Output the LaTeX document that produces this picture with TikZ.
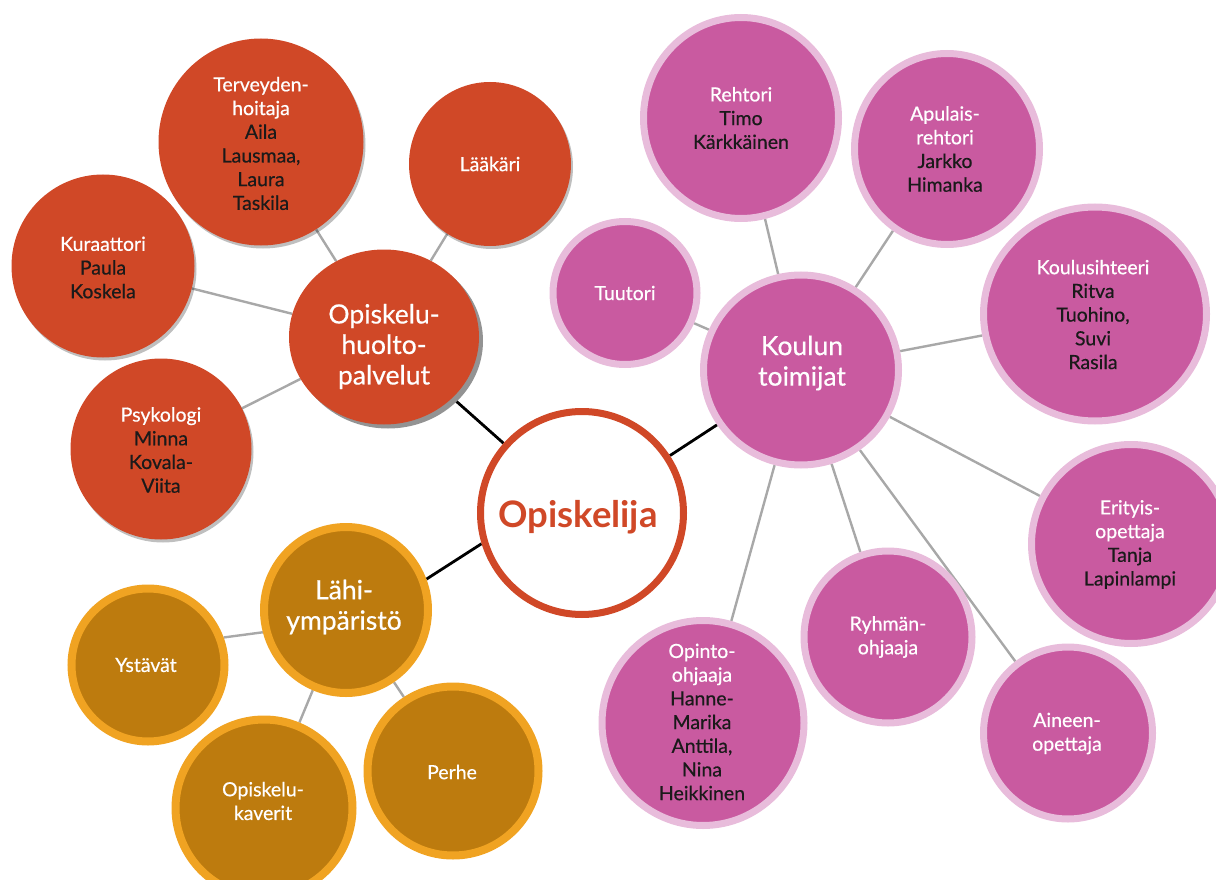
\documentclass[tikz,border=0pt]{standalone}
\usepackage{fontspec}
\setmainfont{Lato}
\newfontfamily\labfont{Lato}[FakeBold=0.5]
\usetikzlibrary{shapes.geometric,shadows,backgrounds}
\definecolor{cRed}{HTML}{D04827}
\definecolor{cPink}{HTML}{C95AA0}
\definecolor{cPinkB}{HTML}{E8BCDB}
\definecolor{cGold}{HTML}{BD7B0E}
\definecolor{cGoldB}{HTML}{F0A322}
\definecolor{cGray}{HTML}{A8A8A8}
\definecolor{cName}{HTML}{1A1A1A}
\newcommand\nm[1]{\textcolor{cName}{#1}}
\begin{document}
\begin{tikzpicture}[x=1pt,y=-1pt,
  sz/.style 2 args={minimum width=#1pt, minimum height=#2pt},
  bubble/.style={ellipse, inner sep=0pt},
  rednode/.style={bubble, fill=cRed, draw=none,
     drop shadow={shadow xshift=2pt, shadow yshift=-3pt, opacity=0.25, fill=black}},
  hubred/.style={bubble, fill=cRed, draw=none,
     drop shadow={shadow xshift=4pt, shadow yshift=-4pt, opacity=1, fill=gray!85}},
  pinknode/.style={bubble, fill=cPink, draw=cPinkB, line width=7pt},
  goldnode/.style={bubble, fill=cGold, draw=cGoldB, line width=8pt},
  centernode/.style={bubble, fill=white, draw=cRed, line width=7pt},
  lab/.style={align=center, text=white, inner sep=0pt, font=\labfont\fontsize{19.5}{23.7}\selectfont},
  biglab/.style={align=center, text=white, inner sep=0pt, font=\labfont\fontsize{26.5}{30.5}\selectfont},
  mainlab/.style={align=center, text=cRed, inner sep=0pt, font=\fontsize{36.5}{38}\selectfont\bfseries},
  conn/.style={draw=cGray, line width=2.4pt},
  mainconn/.style={draw=black, line width=2.8pt}]
\useasboundingbox (0,0) rectangle (1216,880);

% --- red group ---
\node[rednode, sz={205}{207}] (terv) at (261,142) {};
\node[rednode, sz={162}{164}] (laakari) at (490,164) {};
\node[rednode, sz={183}{183}] (kuraattori) at (103,266) {};
\node[rednode, sz={181}{181}] (psykologi) at (161,449) {};
\node[hubred, sz={190}{175}] (ohuolto) at (384,337) {};

% --- center ---
\node[centernode, sz={203}{203}] (opiskelija) at (582,513) {};

% --- pink group ---
\node[pinknode, sz={195}{201}] (rehtori) at (741,118) {};
\node[pinknode, sz={185}{191}] (apulais) at (947,149) {};
\node[pinknode, sz={144}{143}] (tuutori) at (625,293) {};
\node[pinknode, sz={195}{190}] (koulun) at (801,370) {};
\node[pinknode, sz={223}{214}] (koulusiht) at (1095,314) {};
\node[pinknode, sz={199}{199}] (erityis) at (1131,544) {};
\node[pinknode, sz={168}{172}] (ryhman) at (888,637) {};
\node[pinknode, sz={169}{172}] (aineen) at (1068,733) {};
\node[pinknode, sz={202}{205}] (opinto) at (703,723) {};

% --- gold group ---
\node[goldnode, sz={164}{166}] (lahi) at (346,610) {};
\node[goldnode, sz={153}{153}] (ystavat) at (148,665) {};
\node[goldnode, sz={177}{177}] (okaverit) at (264,808) {};
\node[goldnode, sz={171}{169}] (perhe) at (453,771) {};

% --- connectors ---
\begin{pgfonlayer}{background}
\draw[conn] (terv) -- (ohuolto);
\draw[conn] (laakari) -- (ohuolto);
\draw[conn] (kuraattori) -- (ohuolto);
\draw[conn] (psykologi) -- (ohuolto);
\draw[mainconn] (ohuolto) -- (opiskelija);
\draw[mainconn] (koulun) -- (opiskelija);
\draw[mainconn] (lahi.21) -- (opiskelija.197);
\draw[conn] (koulun) -- (rehtori);
\draw[conn] (koulun) -- (apulais);
\draw[conn] (koulun) -- (tuutori);
\draw[conn] (koulun) -- (koulusiht);
\draw[conn] (koulun) -- (erityis);
\draw[conn] (koulun) -- (ryhman);
\draw[conn] (koulun) -- (aineen);
\draw[conn] (koulun) -- (opinto);
\draw[conn] (ystavat.20) -- (lahi.195);
\draw[conn] (lahi) -- (okaverit);
\draw[conn] (lahi) -- (perhe);
\end{pgfonlayer}

% --- labels ---
\node[lab] (tterv) at (261,143.5) {Terveyden-\\hoitaja\\\nm{Aila}\\\nm{Lausmaa,}\\\nm{Laura}\\\nm{Taskila}};
\node[lab] (tlaakari) at (490,164) {Lääkäri};
\node[lab] (tkuraattori) at (103,267.5) {Kuraattori\\\nm{Paula}\\\nm{Koskela}};
\node[lab] (tpsykologi) at (161,450) {Psykologi\\\nm{Minna}\\\nm{Kovala-}\\\nm{Viita}};
\node[biglab] (tohuolto) at (384,346.5) {Opiskelu-\\huolto-\\palvelut};
\node[mainlab] (topiskelija) at (578,517) {Opiskelija};
\node[lab] (trehtori) at (741,118) {Rehtori\\\nm{Timo}\\\nm{Kärkkäinen}};
\node[lab] (tapulais) at (945,149) {Apulais-\\rehtori\\\nm{Jarkko}\\\nm{Himanka}};
\node[lab] (ttuutori) at (625,293) {Tuutori};
\node[biglab] (tkoulun) at (802,363) {Koulun\\toimijat};
\node[lab] (tkoulusiht) at (1093,314.5) {Koulusihteeri\\\nm{Ritva}\\\nm{Tuohino,}\\\nm{Suvi}\\\nm{Rasila}};
\node[lab] (terityis) at (1130,544.5) {Erityis-\\opettaja\\\nm{Tanja}\\\nm{Lapinlampi}};
\node[lab] (tryhman) at (888,637) {Ryhmän-\\ohjaaja};
\node[lab] (taineen) at (1067,733.5) {Aineen-\\opettaja};
\node[lab] (topinto) at (702,722) {Opinto-\\ohjaaja\\\nm{Hanne-}\\\nm{Marika}\\\nm{Anttila,}\\\nm{Nina}\\\nm{Heikkinen}};
\node[biglab] (tlahi) at (344,607) {Lähi-\\ympäristö};
\node[lab] (tystavat) at (146,665) {Ystävät};
\node[lab] (tokaverit) at (263,801) {Opiskelu-\\kaverit};
\node[lab] (tperhe) at (452,772) {Perhe};
\end{tikzpicture}
\end{document}
